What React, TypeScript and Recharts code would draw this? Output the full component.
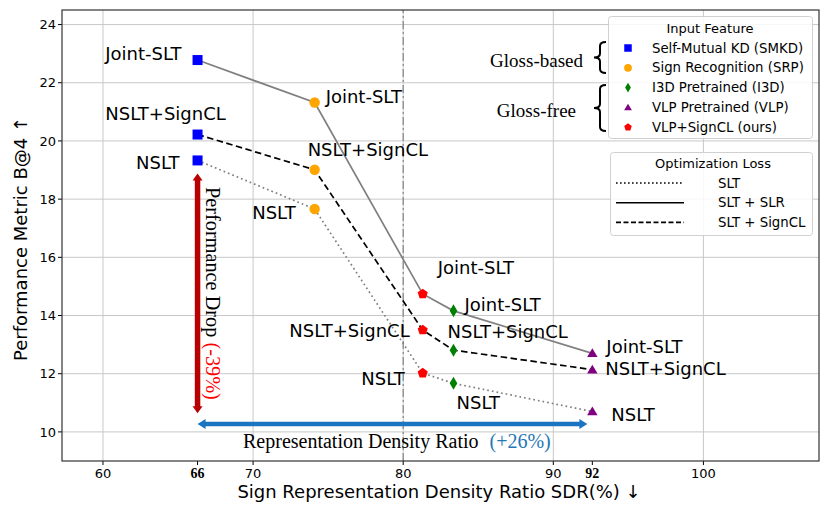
import React from 'react';
import { ScatterChart, Scatter, XAxis, YAxis, ReferenceLine } from 'recharts';

// x = SDR (%), one entry per input feature
const features = ['SMKD', 'SRP', 'VLP+SignCL', 'I3D', 'VLP'];
const sdr = [66.3, 74.1, 81.3, 83.35, 92.6];
// B@4 per optimization loss
const jointSLT = [22.78, 21.32, 14.74, 14.16, 12.7];
const nsltSignCL = [20.22, 19.01, 13.5, 12.81, 12.14];
const nslt = [19.33, 17.66, 12.02, 11.67, 10.7];
const methodNames = ['Joint-SLT', 'NSLT+SignCL', 'NSLT'];

const xTicks = [60, 66.3, 70, 80, 90, 92.6, 100];
const xTickLabels = ['60', '66', '70', '80', '90', '92', '100'];
const yTicks = [10, 12, 14, 16, 18, 20, 22, 24];
const gridX = [60, 70, 80, 90, 100];

const featureLegend = [
  { key: 'SMKD', label: 'Self-Mutual KD (SMKD)' },
  { key: 'SRP', label: 'Sign Recognition (SRP)' },
  { key: 'I3D', label: 'I3D Pretrained (I3D)' },
  { key: 'VLP', label: 'VLP Pretrained (VLP)' },
  { key: 'VLP+SignCL', label: 'VLP+SignCL (ours)' },
];
const lossLegend = ['SLT', 'SLT + SLR', 'SLT + SignCL'];

const SANS = 'DejaVu Sans, sans-serif';
const SERIF = 'Liberation Serif, Times New Roman, serif';

const lineStyles = [
  { stroke: '#808080', strokeWidth: 1.7 },
  { stroke: '#000', strokeWidth: 1.7, strokeDasharray: '6.5 3.5' },
  { stroke: '#808080', strokeWidth: 1.7, strokeDasharray: '1.7 3' },
];

// label placement relative to the marker: [dx, dy, anchor]
const labelPos: Record<string, [number, number, string]> = {
  'SMKD|Joint-SLT': [-16, -7, 'end'],
  'SMKD|NSLT+SignCL': [-32, -21, 'middle'],
  'SMKD|NSLT': [-18, 2, 'end'],
  'SRP|Joint-SLT': [11, -6, 'start'],
  'SRP|NSLT+SignCL': [-7, -20, 'start'],
  'SRP|NSLT': [-19, 3, 'end'],
  'VLP+SignCL|Joint-SLT': [15, -26, 'start'],
  'VLP+SignCL|NSLT+SignCL': [-13, 0, 'end'],
  'VLP+SignCL|NSLT': [-18, 5, 'end'],
  'I3D|Joint-SLT': [11, -6, 'start'],
  'I3D|NSLT+SignCL': [-6, -19, 'start'],
  'I3D|NSLT': [3, 19, 'start'],
  'VLP|Joint-SLT': [14, -7, 'start'],
  'VLP|NSLT+SignCL': [13, -1, 'start'],
  'VLP|NSLT': [19, 3, 'start'],
};

function Marker({ kind, cx, cy, s = 1 }: { kind: string; cx: number; cy: number; s?: number }) {
  if (kind === 'SMKD') {
    const h = 5 * s;
    return <rect x={cx - h} y={cy - h} width={2 * h} height={2 * h} fill="#0000ff" />;
  }
  if (kind === 'SRP') return <circle cx={cx} cy={cy} r={5.2 * s} fill="#ffa500" />;
  if (kind === 'I3D') {
    const w = 3.8 * s, h = 6.5 * s;
    return <polygon points={`${cx},${cy - h} ${cx + w},${cy} ${cx},${cy + h} ${cx - w},${cy}`} fill="#008000" />;
  }
  if (kind === 'VLP') {
    const w = 5.2 * s, h = 5 * s;
    return <polygon points={`${cx},${cy - h} ${cx + w},${cy + h * 0.75} ${cx - w},${cy + h * 0.75}`} fill="#800080" />;
  }
  const r = 5.3 * s;
  const pts = [0, 1, 2, 3, 4]
    .map((i) => {
      const a = -Math.PI / 2 + (i * 2 * Math.PI) / 5;
      return `${cx + r * Math.cos(a)},${cy + r * Math.sin(a)}`;
    })
    .join(' ');
  return <polygon points={pts} fill="#ff0000" />;
}

function arrow(color: string, shaft: number, headW: number, headL: number) {
  return (p: any) => {
    const { x1, y1, x2, y2 } = p;
    const dx = x2 - x1, dy = y2 - y1;
    const len = Math.sqrt(dx * dx + dy * dy) || 1;
    const ux = dx / len, uy = dy / len;
    const nx = -uy, ny = ux;
    const head = (tx: number, ty: number, dir: number) => {
      const bx = tx - dir * ux * headL, by = ty - dir * uy * headL;
      return `${tx},${ty} ${bx + nx * headW / 2},${by + ny * headW / 2} ${bx - nx * headW / 2},${by - ny * headW / 2}`;
    };
    return (
      <g>
        <line
          x1={x1 + ux * headL * 0.9}
          y1={y1 + uy * headL * 0.9}
          x2={x2 - ux * headL * 0.9}
          y2={y2 - uy * headL * 0.9}
          stroke={color}
          strokeWidth={shaft}
        />
        <polygon points={head(x1, y1, -1)} fill={color} />
        <polygon points={head(x2, y2, 1)} fill={color} />
      </g>
    );
  };
}

function brace(x: number, y1: number, y2: number) {
  const w = 12;
  const r = 4;
  const ym = (y1 + y2) / 2;
  const xm = x + w / 2;
  return `M ${x + w} ${y1} Q ${xm} ${y1} ${xm} ${y1 + r} L ${xm} ${ym - r} Q ${xm} ${ym} ${x} ${ym} Q ${xm} ${ym} ${xm} ${ym + r} L ${xm} ${y2 - r} Q ${xm} ${y2} ${x + w} ${y2}`;
}

function XTick(props: any) {
  const { x, y, payload } = props;
  const i = xTicks.indexOf(payload.value);
  const special = payload.value === 66.3 || payload.value === 92.6;
  return (
    <text
      x={x}
      y={y + 11}
      textAnchor="middle"
      fontSize={special ? 14 : 13}
      fontWeight={special ? 'bold' : 'normal'}
      fontFamily={special ? SERIF : SANS}
      fill="#000"
    >
      {i >= 0 ? xTickLabels[i] : payload.value}
    </text>
  );
}

export default function App() {
  const series = [jointSLT, nsltSignCL, nslt];
  const lineData = series.map((vals) => sdr.map((x, i) => ({ x, y: vals[i] })));
  const markerData = features.map((f, i) =>
    series.map((vals, m) => ({ x: sdr[i], y: vals[i], method: methodNames[m], feature: f }))
  );

  const pointShape = (p: any) => {
    const { cx, cy, payload } = p;
    const key = `${payload.feature}|${payload.method}`;
    const [dx, dy, anchor] = labelPos[key] || [10, 0, 'start'];
    return (
      <g>
        <Marker kind={payload.feature} cx={cx} cy={cy} />
        <text
          x={cx + dx}
          y={cy + dy}
          textAnchor={anchor as any}
          dominantBaseline="central"
          fontSize={18}
          fontFamily={SANS}
          fill="#000"
        >
          {payload.method}
        </text>
      </g>
    );
  };

  return (
    <div style={{ position: 'absolute', left: 0, top: 0, width: 830, height: 518, background: '#fff' }}>
      <ScatterChart width={830} height={518} margin={{ top: 10, right: 11, left: 12, bottom: 27 }}>
        <XAxis
          type="number"
          dataKey="x"
          domain={[57.27, 107.7]}
          ticks={xTicks}
          tick={<XTick />}
          height={30}
          axisLine={false}
          tickSize={4}
          tickLine={{ stroke: '#000' }}
          allowDataOverflow
          interval={0}
        />
        <YAxis
          type="number"
          dataKey="y"
          domain={[9, 24.5]}
          ticks={yTicks}
          width={50}
          axisLine={false}
          tickSize={4}
          tickLine={{ stroke: '#000' }}
          tick={{ fill: '#000', fontSize: 13, fontFamily: SANS }}
          allowDataOverflow
          interval={0}
        />
        {yTicks.map((v) => (
          <ReferenceLine key={`gy${v}`} y={v} stroke="#c8c8c8" strokeWidth={1} />
        ))}
        {gridX.map((v) => (
          <ReferenceLine key={`gx${v}`} x={v} stroke="#c8c8c8" strokeWidth={1} />
        ))}
        <ReferenceLine x={80} stroke="#8a8a8a" strokeWidth={1.3} strokeDasharray="8 3 2 3" />
        <ReferenceLine
          segment={[{ x: 66.3, y: 18.88 }, { x: 66.3, y: 10.64 }]}
          shape={arrow('#b80000', 5.5, 10, 7)}
        />
        <ReferenceLine
          segment={[{ x: 66.3, y: 10.27 }, { x: 92.27, y: 10.27 }]}
          shape={arrow('#1a74c2', 4.5, 10, 8)}
        />
        {lineData.map((d, k) => (
          <Scatter
            key={`line${k}`}
            data={d}
            line={{ ...lineStyles[k], fill: 'none' }}
            lineJointType="linear"
            shape={() => <g />}
            isAnimationActive={false}
          />
        ))}
        {markerData.map((d, k) => (
          <Scatter key={`pts${k}`} data={d} shape={pointShape} isAnimationActive={false} />
        ))}
      </ScatterChart>
      <svg
        width={830}
        height={518}
        style={{ position: 'absolute', left: 0, top: 0, pointerEvents: 'none' }}
      >
        <rect x={62} y={10} width={757} height={451} fill="none" stroke="#333" strokeWidth={1.2} />

        {/* annotation texts */}
        <text
          transform="translate(213,187) rotate(90)"
          fontFamily={SERIF}
          fontSize={20.3}
          dominantBaseline="central"
          fill="#000"
        >
          Performance Drop <tspan fill="#ff0000">(-39%)</tspan>
        </text>
        <text x={243} y={441} fontFamily={SERIF} fontSize={20} dominantBaseline="central" fill="#000">
          Representation Density Ratio <tspan dx={6} fill="#1f77b4">(+26%)</tspan>
        </text>

        <text x={583} y={60} textAnchor="end" fontFamily={SERIF} fontSize={19} dominantBaseline="central">
          Gloss-based
        </text>
        <text x={576} y={110} textAnchor="end" fontFamily={SERIF} fontSize={19} dominantBaseline="central">
          Gloss-free
        </text>
        <path d={brace(594, 42, 73)} fill="none" stroke="#000" strokeWidth={2} />
        <path d={brace(594, 85, 131)} fill="none" stroke="#000" strokeWidth={2} />

        {/* legend: input feature */}
        <rect x={608.5} y={16.5} width={204} height={122} rx={3} fill="#fff" fillOpacity={0.85} stroke="#d0d0d0" />
        <text x={710} y={28} textAnchor="middle" fontFamily={SANS} fontSize={13} dominantBaseline="central">
          Input Feature
        </text>
        {featureLegend.map((f, i) => (
          <g key={f.key}>
            <Marker kind={f.key} cx={628} cy={48 + i * 19.8} s={0.75} />
            <text x={652} y={48 + i * 19.8} fontFamily={SANS} fontSize={13.3} dominantBaseline="central">
              {f.label}
            </text>
          </g>
        ))}

        {/* legend: optimization loss */}
        <rect x={610.5} y={152.5} width={202} height={83} rx={3} fill="#fff" fillOpacity={0.85} stroke="#d0d0d0" />
        <text x={713} y={163} textAnchor="middle" fontFamily={SANS} fontSize={13} dominantBaseline="central">
          Optimization Loss
        </text>
        {lossLegend.map((l, i) => {
          const y = 183 + i * 19.7;
          const dash = i === 0 ? '1.6 2.4' : i === 2 ? '5 2.5' : undefined;
          return (
            <g key={l}>
              <line x1={616} y1={y} x2={684} y2={y} stroke="#000" strokeWidth={1.6} strokeDasharray={dash} />
              <text x={718} y={y} fontFamily={SANS} fontSize={13.3} dominantBaseline="central">
                {l}
              </text>
            </g>
          );
        })}

        {/* axis titles */}
        <text
          transform="translate(20,239) rotate(-90)"
          textAnchor="middle"
          dominantBaseline="central"
          fontFamily={SANS}
          fontSize={18}
        >
          Performance Metric B@4 ↑
        </text>
        <text x={439} y={491} textAnchor="middle" dominantBaseline="central" fontFamily={SANS} fontSize={18}>
          Sign Representation Density Ratio SDR(%) ↓
        </text>
      </svg>
    </div>
  );
}
